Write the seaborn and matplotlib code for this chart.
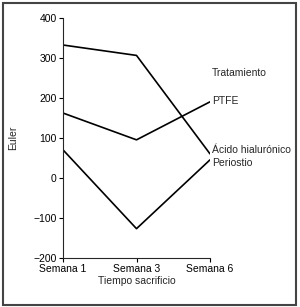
import matplotlib
matplotlib.use("Agg")
import matplotlib.pyplot as plt
import seaborn as sns
import pandas as pd
from matplotlib.patches import Rectangle

semanas = ["Semana 1", "Semana 3", "Semana 6"]
acido = [332, 306, 60]
ptfe = [162, 95, 190]
periostio = [70, -127, 45]
tratamientos = ["Ácido hialurónico", "PTFE", "Periostio"]

rows = []
for name, vals in zip(tratamientos, [acido, ptfe, periostio]):
    for s, v in zip(semanas, vals):
        rows.append({"Tiempo sacrificio": s, "Euler": v, "Tratamiento": name})
df = pd.DataFrame(rows)

sns.set_style("ticks")
plt.rcParams['font.family'] = ['Liberation Sans', 'DejaVu Sans']

fig = plt.figure(figsize=(3.0, 3.07), dpi=100)
ax = fig.add_axes([0.21, 0.16, 0.49, 0.782])
sns.lineplot(data=df, x="Tiempo sacrificio", y="Euler", hue="Tratamiento",
             palette=["black"] * 3, linewidth=1.2, legend=False, ax=ax, sort=False)
ax.set_xlim(0, 2)
ax.set_ylim(-200, 400)
ax.set_yticks([-200, -100, 0, 100, 200, 300, 400])
ax.set_yticklabels(["\u2212200", "\u2212100", "0", "100", "200", "300", "400"])
sns.despine(ax=ax)
for sp in ["left", "bottom"]:
    ax.spines[sp].set_linewidth(0.8)
ax.tick_params(axis="both", labelsize=7.5, width=0.8, length=3, pad=1.5, colors="black")
ax.set_xlabel("Tiempo sacrificio", fontsize=7.5, labelpad=1.5)
ax.set_ylabel("Euler", fontsize=7.5, labelpad=11)

# end labels
ax.text(2.03, 263, "Tratamiento", fontsize=7.5, va="center", ha="left", clip_on=False)
ax.text(2.03, 193, "PTFE", fontsize=7.5, va="center", ha="left", clip_on=False)
ax.text(2.03, 70, "Ácido hialurónico", fontsize=7.5, va="center", ha="left", clip_on=False)
ax.text(2.03, 37, "Periostio", fontsize=7.5, va="center", ha="left", clip_on=False)

fig.patches.append(Rectangle((0.01, 0.008), 0.978, 0.982, transform=fig.transFigure,
                             fill=False, edgecolor="#444444", linewidth=1.5))
fig.savefig("out.png", dpi=100)
